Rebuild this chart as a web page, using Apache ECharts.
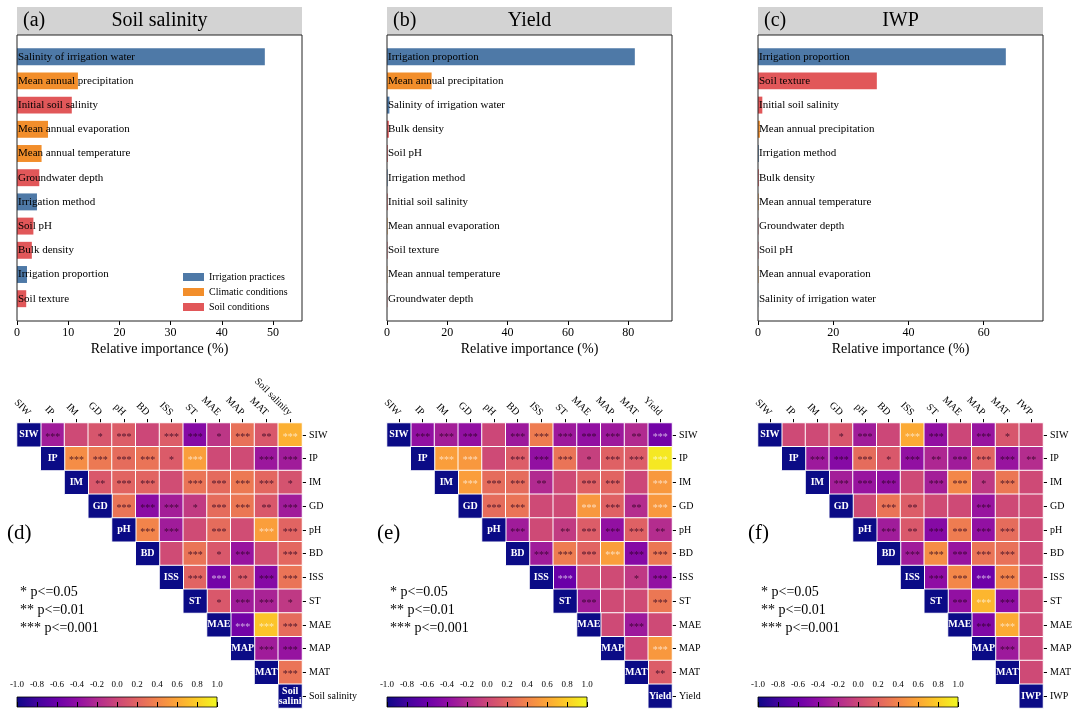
<!DOCTYPE html>
<html><head><meta charset="utf-8">
<script src="https://cdn.jsdelivr.net/npm/echarts@6/dist/echarts.min.js"></script>
<style>html,body{margin:0;padding:0;background:#fff}#c{width:1080px;height:715px}</style>
</head><body><div id="c"></div><script>
const FONT = "'Liberation Serif','Times New Roman',serif";

// ---------- Relative importance (top panels) ----------
const soilFeatures = ['Salinity of irrigation water','Mean annual precipitation','Initial soil salinity','Mean annual evaporation','Mean annual temperature','Groundwater depth','Irrigation method','Soil pH','Bulk density','Irrigation proportion','Soil texture'];
const soilImportance = [48.4, 11.9, 10.7, 6.05, 4.8, 4.35, 3.9, 3.2, 2.9, 1.95, 1.8];
const yieldFeatures = ['Irrigation proportion','Mean annual precipitation','Salinity of irrigation water','Bulk density','Soil pH','Irrigation method','Initial soil salinity','Mean annual evaporation','Soil texture','Mean annual temperature','Groundwater depth'];
const yieldImportance = [82.2, 14.8, 0.8, 0.6, 0.25, 0.2, 0.2, 0.15, 0.15, 0.1, 0.1];
const iwpFeatures = ['Irrigation proportion','Soil texture','Initial soil salinity','Mean annual precipitation','Irrigation method','Bulk density','Mean annual temperature','Groundwater depth','Soil pH','Mean annual evaporation','Salinity of irrigation water'];
const iwpImportance = [65.9, 31.6, 1.15, 0.5, 0.2, 0.2, 0.15, 0.1, 0.1, 0.1, 0.05];
const groupNames = ['Irrigation practices','Climatic conditions','Soil conditions'];
const featureGroup = {
  'Salinity of irrigation water':0,'Irrigation method':0,'Irrigation proportion':0,
  'Mean annual precipitation':1,'Mean annual evaporation':1,'Mean annual temperature':1,
  'Initial soil salinity':2,'Groundwater depth':2,'Soil pH':2,'Bulk density':2,'Soil texture':2
};
const panelTitles = ['Soil salinity','Yield','IWP'];
const panelLetters = ['(a)','(b)','(c)'];
const heatLetters = ['(d)','(e)','(f)'];

// ---------- Correlation matrices (upper triangle, row by row) ----------
const varCodes = ['SIW','IP','IM','GD','pH','BD','ISS','ST','MAE','MAP','MAT'];
const targetNames = ['Soil salinity','Yield','IWP'];
const targetDiag = ['Soil\nsalinity','Yield','IWP'];

const soilCorr = [
  [-0.3, 0.02, 0.1, 0.15, 0.0, 0.15, -0.45, -0.12, 0.28, 0.12, 0.65],
  [0.45, 0.33, 0.25, 0.3, 0.14, 0.55, 0.02, 0.03, -0.33, -0.3],
  [0.12, 0.2, 0.2, 0.04, 0.3, 0.24, 0.33, 0.22, 0.08],
  [0.3, -0.42, -0.28, -0.08, 0.25, 0.32, 0.12, -0.3],
  [0.4, -0.3, 0.03, 0.25, 0.04, 0.55, 0.2],
  [0.03, 0.3, 0.12, -0.35, 0.04, 0.22],
  [0.2, -0.55, 0.15, -0.45, 0.3],
  [0.12, -0.3, -0.25, -0.1],
  [-0.55, 0.75, 0.25],
  [-0.3, -0.36],
  [0.3]
];
const soilSig = [
  ['***','','*','***','','***','***','*','***','**','***'],
  ['***','***','***','***','*','***','','','***','***'],
  ['**','***','***','','***','***','***','***','*'],
  ['***','***','***','*','***','***','**','***'],
  ['***','***','','***','','***','***'],
  ['','***','*','***','','***'],
  ['***','***','**','***','***'],
  ['*','***','***','*'],
  ['***','***','***'],
  ['***','***'],
  ['***']
];
const yieldCorr = [
  [-0.38, -0.28, -0.38, 0.0, -0.32, 0.35, -0.32, -0.38, -0.32, -0.2, -0.55],
  [0.55, 0.52, 0.02, 0.15, -0.38, 0.3, -0.05, 0.18, 0.15, 0.92],
  [0.55, 0.25, 0.25, -0.2, 0.02, 0.18, 0.2, 0.0, 0.52],
  [0.25, 0.3, 0.02, 0.02, 0.52, 0.18, -0.18, 0.52],
  [-0.3, 0.02, -0.08, 0.15, -0.38, 0.18, -0.18],
  [-0.3, 0.35, 0.2, 0.55, -0.45, 0.32],
  [-0.6, 0.02, 0.03, -0.1, -0.38],
  [-0.3, 0.03, 0.03, 0.32],
  [0.02, -0.32, 0.02],
  [0.0, 0.52],
  [0.15]
];
const yieldSig = [
  ['***','***','***','','***','***','***','***','***','**','***'],
  ['***','***','','***','***','***','*','***','***','***'],
  ['***','***','***','**','','***','***','','***'],
  ['***','***','','','***','***','**','***'],
  ['***','','**','***','***','***','**'],
  ['***','***','***','***','***','***'],
  ['***','','','*','***'],
  ['***','','','***'],
  ['','***',''],
  ['','***'],
  ['**']
];
const iwpCorr = [
  [0.02, 0.02, 0.1, -0.3, 0.0, 0.62, -0.38, 0.0, -0.35, 0.1, 0.02],
  [-0.32, -0.45, 0.25, 0.12, -0.38, -0.22, -0.3, 0.2, -0.35, -0.18],
  [-0.28, -0.35, -0.38, 0.02, -0.28, 0.42, -0.1, 0.32, 0.02],
  [0.02, 0.3, 0.15, 0.03, 0.02, -0.35, 0.02, 0.02],
  [-0.3, 0.12, -0.45, 0.35, -0.38, 0.25, 0.02],
  [-0.3, 0.45, -0.35, 0.3, 0.28, 0.02],
  [-0.4, 0.42, -0.58, 0.4, 0.02],
  [-0.38, 0.68, -0.4, 0.02],
  [-0.48, 0.62, 0.02],
  [-0.32, 0.0],
  [0.02]
];
const iwpSig = [
  ['','','*','***','','***','***','','***','*',''],
  ['***','***','***','*','***','**','***','***','***','**'],
  ['***','***','***','','***','***','*','***',''],
  ['','***','**','','','***','',''],
  ['***','**','***','***','***','***',''],
  ['***','***','***','***','***',''],
  ['***','***','***','***',''],
  ['***','***','***',''],
  ['***','***',''],
  ['***',''],
  ['']
];
const colorbarTicks = [-1.0,-0.8,-0.6,-0.4,-0.2,0.0,0.2,0.4,0.6,0.8,1.0];
const sigLegend = ['* p<=0.05','** p<=0.01','*** p<=0.001'];

// ---------- styling ----------
const groupColors = ['#4e79a7','#f28e2b','#e15759'];
const plasma = ['#0d0887','#41049d','#6a00a8','#8f0da4','#b12a90','#cc4778','#e16462','#f2844b','#fca636','#fcce25','#f0f921'];
const panelLeft = [17, 387, 758];
const PW = 285;
const barTop = 44.6, barH = 266.2, frameTop = 35, frameBottom = 321;
const heatTop = 423, heatSize = 285;

const barPanels = [
  {features: soilFeatures, values: soilImportance},
  {features: yieldFeatures, values: yieldImportance},
  {features: iwpFeatures, values: iwpImportance}
];
const heatPanels = [
  {corr: soilCorr, sig: soilSig},
  {corr: yieldCorr, sig: yieldSig},
  {corr: iwpCorr, sig: iwpSig}
];

const grid = [], xAxis = [], yAxis = [], series = [], graphic = [];

// bar panels
barPanels.forEach((p, i) => {
  const L = panelLeft[i];
  const gi = grid.length;
  grid.push({left: L, top: barTop, width: PW, height: barH});
  const maxV = Math.max(...p.values) * 1.15;
  const step = i === 0 ? 10 : 20;
  const ticks = [];
  for (let t = 0; t <= maxV; t += step) ticks.push(t);
  xAxis.push({
    gridIndex: gi, type: 'value', min: 0, max: maxV, offset: frameBottom - (barTop + barH),
    axisLine: {show: false}, splitLine: {show: false},
    axisTick: {show: true, length: 4, customValues: ticks, lineStyle: {color: '#000'}},
    axisLabel: {customValues: ticks, fontSize: 12, color: '#000', margin: 6},
    name: 'Relative importance (%)', nameLocation: 'middle', nameGap: 21,
    nameTextStyle: {fontSize: 14, color: '#000'}
  });
  yAxis.push({
    gridIndex: gi, type: 'category', data: p.features, inverse: true, z: 10,
    axisLine: {show: false}, axisTick: {show: false}, splitLine: {show: false},
    axisLabel: {inside: true, margin: 1, fontSize: 11, color: '#000', interval: 0}
  });
  groupNames.forEach((g, k) => {
    series.push({
      type: 'bar', name: g, xAxisIndex: gi, yAxisIndex: gi, stack: 'bar' + i, barWidth: '70%',
      itemStyle: {color: groupColors[k]},
      data: p.values.map((v, j) => featureGroup[p.features[j]] === k ? v : '-')
    });
  });
  graphic.push({type: 'rect', z: 0, shape: {x: L, y: 7, width: PW, height: 28}, style: {fill: '#d3d3d3'}});
  graphic.push({type: 'rect', z: 100, shape: {x: L, y: frameTop, width: PW, height: frameBottom - frameTop}, style: {fill: null, stroke: '#222', lineWidth: 1}});
  graphic.push({type: 'text', z: 101, x: L + 6, y: 21, style: {text: panelLetters[i], fontSize: 20, fontFamily: FONT, fill: '#000', verticalAlign: 'middle'}});
  graphic.push({type: 'text', z: 101, x: L + PW / 2, y: 21, style: {text: panelTitles[i], fontSize: 20, fontFamily: FONT, fill: '#000', align: 'center', verticalAlign: 'middle'}});
});

// heatmap panels
const mainIdx = [], diagIdx = [];
heatPanels.forEach((h, i) => {
  const L = panelLeft[i];
  const labels = varCodes.concat([targetNames[i]]);
  const diagLabels = varCodes.concat([targetDiag[i]]);
  const gi = grid.length;
  grid.push({left: L, top: heatTop, width: heatSize, height: heatSize});
  xAxis.push({
    gridIndex: gi, type: 'category', position: 'top', data: labels,
    axisLine: {show: false}, splitLine: {show: false},
    axisTick: {show: true, alignWithLabel: true, length: 4, lineStyle: {color: '#000'}},
    axisLabel: {rotate: 45, fontSize: 10, color: '#000', margin: 9, interval: 0}
  });
  yAxis.push({
    gridIndex: gi, type: 'category', position: 'right', inverse: true, data: labels,
    axisLine: {show: false}, splitLine: {show: false},
    axisTick: {show: true, alignWithLabel: true, length: 4, lineStyle: {color: '#000'}},
    axisLabel: {fontSize: 10, color: '#000', margin: 7, interval: 0}
  });
  const cells = [];
  h.corr.forEach((row, r) => row.forEach((v, k) => {
    const c = r + 1 + k;
    cells.push({value: [c, r, v], label: {color: Math.abs(v) > 0.5 ? 'rgba(255,255,255,0.65)' : 'rgba(40,0,30,0.8)'}});
  }));
  mainIdx.push(series.length);
  series.push({
    type: 'heatmap', xAxisIndex: gi, yAxisIndex: gi, data: cells,
    itemStyle: {borderColor: '#fff', borderWidth: 1},
    label: {show: true, fontSize: 10, offset: [0, 2],
      formatter: pr => h.sig[pr.value[1]][pr.value[0] - pr.value[1] - 1]},
    emphasis: {disabled: true}
  });
  diagIdx.push(series.length);
  series.push({
    type: 'heatmap', xAxisIndex: gi, yAxisIndex: gi,
    data: labels.map((_, k) => [k, k, 1]),
    itemStyle: {borderColor: '#fff', borderWidth: 1},
    label: {show: true, fontSize: 10, fontWeight: 'bold', color: '#fff', lineHeight: 10,
      width: 28, overflow: 'truncate', ellipsis: '',
      formatter: pr => diagLabels[pr.value[0]]},
    emphasis: {disabled: true}
  });
  // colorbar
  const cg = grid.length;
  grid.push({left: L, top: 697, width: 200, height: 10, show: true, borderColor: '#000', borderWidth: 0.8,
    backgroundColor: new echarts.graphic.LinearGradient(0, 0, 1, 0, plasma.map((c, k) => ({offset: k / (plasma.length - 1), color: c})))});
  xAxis.push({
    gridIndex: cg, type: 'value', min: -1, max: 1, position: 'top',
    axisLine: {show: false}, splitLine: {show: false},
    axisTick: {show: true, length: 5, customValues: colorbarTicks, lineStyle: {color: '#000'}},
    axisLabel: {customValues: colorbarTicks, fontSize: 9, color: '#000', margin: 8, formatter: v => (+v).toFixed(1)}
  });
  yAxis.push({gridIndex: cg, type: 'value', show: false, min: 0, max: 1});
  graphic.push({type: 'text', z: 101, x: L - 10, y: 533, style: {text: heatLetters[i], fontSize: 21, fontFamily: FONT, fill: '#000', verticalAlign: 'middle'}});
  graphic.push({type: 'text', z: 101, x: L + 3, y: 583, style: {text: sigLegend.join('\n'), fontSize: 14, lineHeight: 18, fontFamily: FONT, fill: '#000'}});
});

const option = {
  animation: false,
  backgroundColor: '#fff',
  textStyle: {fontFamily: FONT},
  grid, xAxis, yAxis, series, graphic,
  legend: {
    data: groupNames, orient: 'vertical', left: 183, top: 272, padding: 0,
    itemWidth: 21, itemHeight: 8, itemGap: 5, icon: 'rect', selectedMode: false,
    textStyle: {fontSize: 10, color: '#000', fontFamily: FONT}
  },
  visualMap: [
    {type: 'continuous', show: false, min: -1, max: 1, dimension: 2, seriesIndex: mainIdx, inRange: {color: plasma}},
    {type: 'continuous', show: false, min: 0, max: 1, dimension: 2, seriesIndex: diagIdx, inRange: {color: ['#0b0b86', '#0b0b86']}}
  ]
};
const chart = echarts.init(document.getElementById('c'));
chart.setOption(option);
</script></body></html>
